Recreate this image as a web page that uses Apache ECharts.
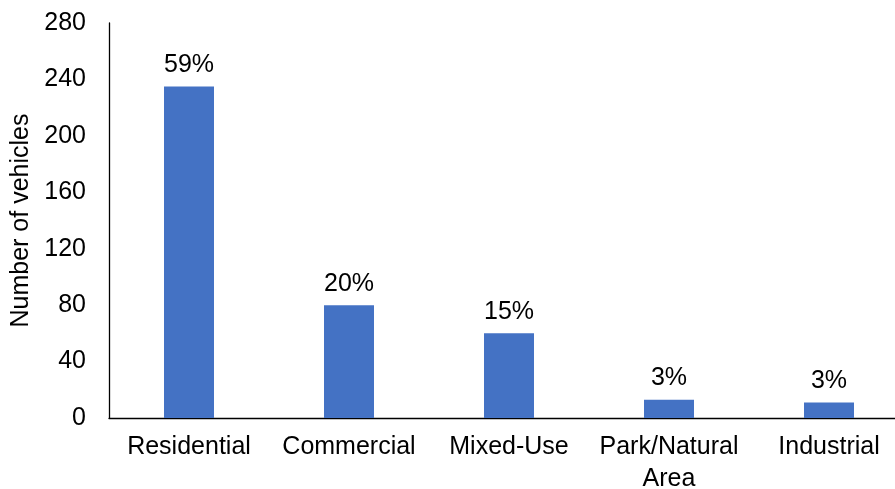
<!DOCTYPE html>
<html>
<head>
<meta charset="utf-8">
<script src="https://cdn.jsdelivr.net/npm/echarts@6/dist/echarts.min.js"></script>
<style>
  html, body { margin: 0; padding: 0; background: #fff; }
  #main { width: 895px; height: 489px; }
</style>
</head>
<body>
<div id="main"></div>
<script>
var categories = ['Residential', 'Commercial', 'Mixed-Use', 'Park/Natural\nArea', 'Industrial'];
var vehicles = [235, 80, 60, 13, 11];
var shares = ['59%', '20%', '15%', '3%', '3%'];
var yTicks = { min: 0, max: 280, interval: 40 };

var font = '"Liberation Sans", Arial, sans-serif';

var myChart = echarts.init(document.getElementById('main'));

// the plot runs a little past the right edge of the picture
var option = {
    backgroundColor: '#fff',
    animation: false,
    grid: {
        left: 109,
        top: 23,
        bottom: 71,
        width: 800,
        containLabel: false,
        outerBoundsMode: 'none'
    },
    xAxis: {
        type: 'category',
        data: categories,
        axisLine: { lineStyle: { color: '#000', width: 1.3 } },
        axisTick: { show: false },
        axisLabel: {
            color: '#000',
            fontFamily: font,
            fontSize: 25,
            lineHeight: 32,
            margin: 13,
            interval: 0
        }
    },
    yAxis: {
        type: 'value',
        min: yTicks.min,
        max: yTicks.max,
        interval: yTicks.interval,
        name: 'Number of vehicles',
        nameLocation: 'middle',
        nameGap: 74,
        nameTextStyle: { color: '#000', fontFamily: font, fontSize: 25 },
        splitLine: { show: false },
        axisLine: { show: true, lineStyle: { color: '#000', width: 1.3 } },
        axisTick: { show: false },
        axisLabel: {
            color: '#000',
            fontFamily: font,
            fontSize: 25,
            margin: 23
        }
    },
    series: [
        {
            type: 'bar',
            data: vehicles,
            barWidth: 50,
            itemStyle: { color: '#4472C4' },
            label: {
                show: true,
                position: 'top',
                distance: 9,
                color: '#000',
                fontFamily: font,
                fontSize: 25,
                formatter: function (p) {
                    return shares[p.dataIndex];
                }
            }
        }
    ]
};

myChart.setOption(option);
</script>
</body>
</html>
